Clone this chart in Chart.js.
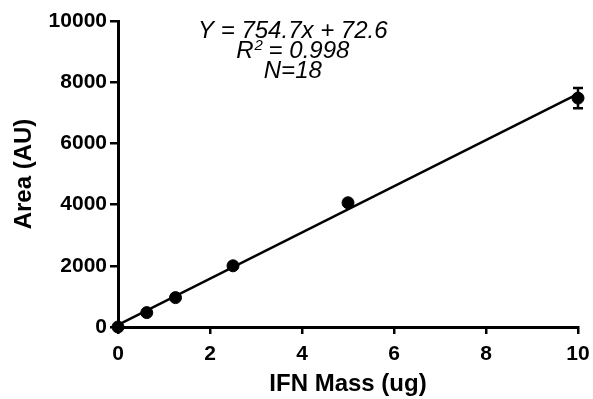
<!DOCTYPE html>
<html>
<head>
<meta charset="utf-8">
<script src="https://cdn.jsdelivr.net/npm/chart.js@4"></script>
<style>
  html, body { margin: 0; padding: 0; background: #fff; }
  #wrap { width: 593px; height: 399px; }
</style>
</head>
<body>
<div id="wrap"><canvas id="myChart" width="593" height="399"></canvas></div>
<script>
// data
var massUg = [0, 0.625, 1.25, 2.5, 5, 10];
var areaAU = [0, 470, 960, 2000, 4060, 7480];
var areaErr = [0, 0, 0, 0, 0, 330];
var xTicks = [0, 2, 4, 6, 8, 10];
var yTicks = [0, 2000, 4000, 6000, 8000, 10000];
var slope = 754.7;
var intercept = 72.6;
var fitText = ['Y = 754.7x + 72.6', 'R² = 0.998', 'N=18'];

var fitLine = [
    { x: 0, y: intercept },
    { x: 10, y: slope * 10 + intercept }
];

var FONT = '"Liberation Sans", Arial, Helvetica, sans-serif';

// error bars drawn through the scales
var errorBars = {
    id: 'errorBars',
    afterDatasetsDraw: function (chart) {
        var c = chart.ctx, xs = chart.scales.x, ys = chart.scales.y;
        c.save();
        c.strokeStyle = '#000';
        c.lineWidth = 2.5;
        massUg.forEach(function (m, i) {
            if (!areaErr[i]) return;
            var px = xs.getPixelForValue(m);
            var top = ys.getPixelForValue(areaAU[i] + areaErr[i]);
            var bot = ys.getPixelForValue(areaAU[i] - areaErr[i]);
            c.beginPath();
            c.moveTo(px, top); c.lineTo(px, bot);
            c.moveTo(px - 5, top); c.lineTo(px + 5, top);
            c.moveTo(px - 5, bot); c.lineTo(px + 5, bot);
            c.stroke();
        });
        c.restore();
    }
};

// regression text block
var fitLabel = {
    id: 'fitLabel',
    afterDraw: function (chart) {
        var c = chart.ctx, a = chart.chartArea;
        var big = 'italic 24px ' + FONT, small = 'italic 15px ' + FONT;
        c.save();
        c.fillStyle = '#000';
        c.font = big;
        c.textAlign = 'center';
        c.textBaseline = 'middle';
        var cx = a.left + (a.right - a.left) * 0.38;
        fitText.forEach(function (t, i) {
            var y = a.top + 10 + i * 20;
            if (t.indexOf('R²') === 0) {
                var rest = ' = 0.998';
                var wR = c.measureText('R').width;
                c.font = small;
                var w2 = c.measureText('2').width;
                c.font = big;
                var wRest = c.measureText(rest).width;
                var x0 = cx - (wR + w2 + wRest) / 2;
                c.textAlign = 'left';
                c.fillText('R', x0, y);
                c.font = small;
                c.fillText('2', x0 + wR + 1, y - 5);
                c.font = big;
                c.fillText(rest, x0 + wR + w2, y);
                c.textAlign = 'center';
            } else {
                c.fillText(t, cx, y);
            }
        });
        c.restore();
    }
};

var ctx = document.getElementById('myChart').getContext('2d');
var chart = new Chart(ctx, {
    type: 'scatter',
    data: {
        datasets: [
            {
                label: 'fit',
                type: 'line',
                data: fitLine,
                borderColor: '#000',
                borderWidth: 2.5,
                pointRadius: 0,
                fill: false,
                order: 2
            },
            {
                label: 'IFN',
                data: massUg.map(function (m, i) { return { x: m, y: areaAU[i] }; }),
                backgroundColor: '#000',
                borderColor: '#000',
                pointRadius: 6,
                clip: false,
                order: 1
            }
        ]
    },
    plugins: [errorBars, fitLabel],
    options: {
        responsive: false,
        animation: false,
        layout: { autoPadding: false, padding: { top: 21, right: 15, left: 0, bottom: 0 } },
        plugins: { legend: { display: false }, tooltip: { enabled: false } },
        scales: {
            x: {
                type: 'linear',
                min: 0, max: 10,
                afterBuildTicks: function (s) { s.ticks = xTicks.map(function (v) { return { value: v }; }); },
                afterFit: function (s) { s.height = 72; s.paddingLeft = 0; s.paddingRight = 0; },
                border: { display: true, color: '#000', width: 3 },
                grid: { drawOnChartArea: false, drawTicks: true, tickLength: 7, color: '#000', lineWidth: 2.5 },
                ticks: { color: '#000', padding: 8, font: { family: FONT, size: 21, weight: 'bold' },
                         callback: function (v) { return String(v); } },
                title: { display: true, text: 'IFN Mass (ug)', color: '#000', padding: { top: 0, bottom: 0 },
                         font: { family: FONT, size: 24, weight: 'bold' } }
            },
            y: {
                type: 'linear',
                min: 0, max: 10000,
                afterBuildTicks: function (s) { s.ticks = yTicks.map(function (v) { return { value: v }; }); },
                afterFit: function (s) { s.width = 118; s.paddingTop = 0; s.paddingBottom = 0; },
                border: { display: true, color: '#000', width: 3 },
                grid: { drawOnChartArea: false, drawTicks: true, tickLength: 8, color: '#000', lineWidth: 2.5 },
                ticks: { color: '#000', padding: 3, font: { family: FONT, size: 21, weight: 'bold' },
                         callback: function (v) { return String(v); } },
                title: { display: true, text: 'Area (AU)', color: '#000', padding: { top: 10, bottom: 0 },
                         font: { family: FONT, size: 24, weight: 'bold' } }
            }
        }
    }
});
</script>
</body>
</html>
